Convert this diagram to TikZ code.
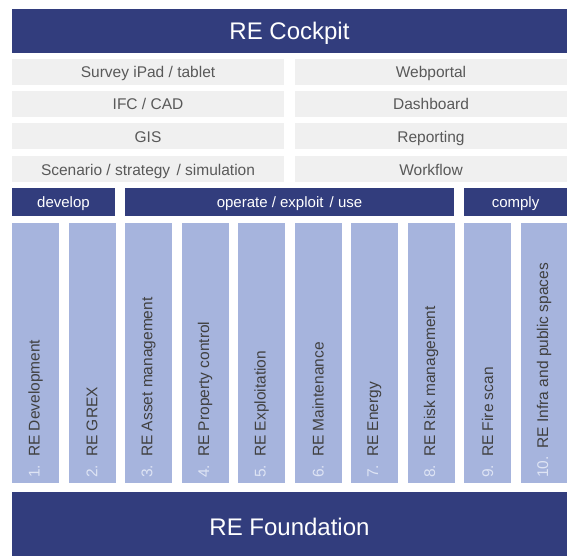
\documentclass[tikz,border=0pt]{standalone}
\usepackage{fontspec}
\setmainfont{Liberation Sans}
\definecolor{navyc}{RGB}{50,61,125}
\definecolor{colc}{RGB}{166,180,221}
\definecolor{grayc}{RGB}{240,240,240}
\definecolor{graytext}{RGB}{89,89,89}
\definecolor{labtext}{RGB}{64,64,64}
\definecolor{numtext}{RGB}{222,228,244}
\begin{document}
\begin{tikzpicture}[x=1pt,y=1pt,
  navybox/.style={fill=navyc,text=white,inner sep=0pt,draw=none},
  bigtitle/.style={navybox,text depth=0pt,minimum width=555pt,font=\fontsize{24}{28}\selectfont},
  catbox/.style={navybox,text height=10.7pt,text depth=0pt,minimum height=28pt,font=\fontsize{15}{18}\selectfont},
  graybox/.style={fill=grayc,text=graytext,inner sep=0pt,text height=11.1pt,text depth=0pt,minimum width=272pt,minimum height=26pt,font=\fontsize{15.5}{18}\selectfont},
  colbox/.style={fill=colc,inner sep=0pt,minimum width=47pt,minimum height=260pt},
  collabel/.style={rotate=90,anchor=west,inner sep=0pt,text=labtext,font=\fontsize{15.5}{18}\selectfont}
]
\useasboundingbox (0,0) rectangle (567,-556);
\fill[white] (0,0) rectangle (567,-556);

\node[bigtitle,text height=17.2pt,minimum height=44pt] (cockpit) at (289.5,-31) {RE Cockpit};

\node[graybox] (g1l) at (148,-72) {Survey iPad / tablet};
\node[graybox] (g1r) at (431,-72) {Webportal};
\node[graybox] (g2l) at (148,-104) {IFC / CAD};
\node[graybox] (g2r) at (431,-104) {Dashboard};
\node[graybox] (g3l) at (148,-136.5) {GIS};
\node[graybox] (g3r) at (431,-136.5) {Reporting};
\node[graybox] (g4l) at (148,-169.5) {Scenario / strategy\hspace{2pt} / simulation};
\node[graybox] (g4r) at (431,-169.5) {Workflow};

\node[catbox,minimum width=103pt] (develop) at (63.5,-202) {develop};
\node[catbox,minimum width=329pt] (operate) at (289.5,-202) {operate / exploit\hspace{2pt} / use};
\node[catbox,minimum width=103pt] (comply) at (515.5,-202) {comply};

\foreach \i/\t in {1/RE Development,2/RE GREX,3/RE Asset management,4/RE Property control,5/RE Exploitation,6/RE Maintenance,7/RE Energy,8/RE Risk management,9/RE Fire scan,10/RE Infra and public spaces}{
  \pgfmathsetmacro{\cx}{35.5+56.5*(\i-1)}
  \node[colbox] (c\i) at (\cx,-353) {};
  \node[collabel] (l\i) at (\cx,-478) {{\color{numtext}\i.}\hspace{8pt}\t};
}

\node[bigtitle,text height=23.2pt,minimum height=64pt] (foundation) at (289.5,-524) {RE Foundation};
\end{tikzpicture}
\end{document}
